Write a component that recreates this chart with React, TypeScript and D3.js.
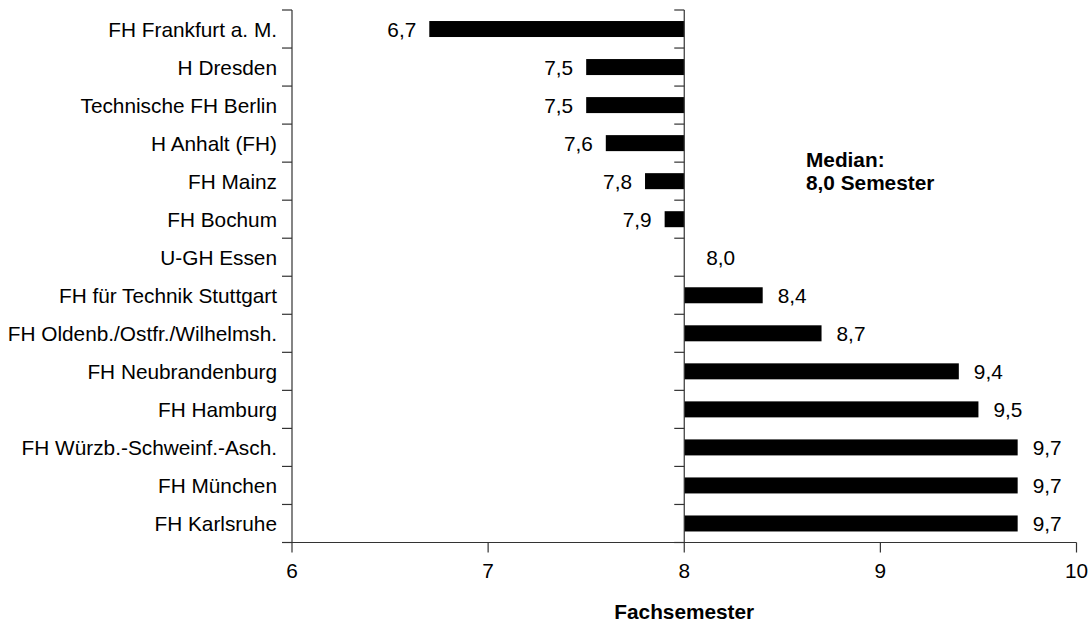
import React from "react";
import * as d3 from "d3";

const categories = [
  "FH Frankfurt a. M.",
  "H Dresden",
  "Technische FH Berlin",
  "H Anhalt (FH)",
  "FH Mainz",
  "FH Bochum",
  "U-GH Essen",
  "FH für Technik Stuttgart",
  "FH Oldenb./Ostfr./Wilhelmsh.",
  "FH Neubrandenburg",
  "FH Hamburg",
  "FH Würzb.-Schweinf.-Asch.",
  "FH München",
  "FH Karlsruhe",
];
const values = [6.7, 7.5, 7.5, 7.6, 7.8, 7.9, 8.0, 8.4, 8.7, 9.4, 9.5, 9.7, 9.7, 9.7];
const xTicks = [6, 7, 8, 9, 10];
const median = 8;
const xTitle = "Fachsemester";
const medianLines = ["Median:", "8,0 Semester"];

const W = 1091;
const H = 625;
const left = 292;
const right = 1076.5;
const top = 10;
const bottom = 542.5;
const font = "'Liberation Sans', Arial, sans-serif";
const fs = 20.8;
const axisColor = "#333";

export default function App() {
  const x = d3.scaleLinear().domain([6, 10]).range([left, right]);
  const y = d3.scaleBand<string>().domain(categories).range([top, bottom]).paddingInner(0);
  const bw = y.bandwidth();
  const barH = 16;
  const fmt = (v: number) => d3.format(".1f")(v).replace(".", ",");
  const boundaries = d3.range(categories.length + 1).map((i) => top + i * bw);
  const xm = x(median);

  return (
    <svg
      width={W}
      height={H}
      style={{ position: "absolute", left: 0, top: 0, background: "#fff" }}
      fontFamily={font}
    >
      <rect x={0} y={0} width={W} height={H} fill="#fff" />
      {/* bars */}
      {values.map((v, i) => {
        const cy = (y(categories[i]) as number) + bw / 2;
        const x0 = Math.min(x(v), xm);
        const x1 = Math.max(x(v), xm);
        return (
          <rect key={"b" + i} x={x0} y={cy - barH / 2} width={x1 - x0} height={barH} fill="#000" />
        );
      })}
      {/* left axis */}
      <line x1={left} x2={left} y1={top} y2={bottom} stroke={axisColor} strokeWidth={1.2} />
      {boundaries.map((b, i) => (
        <line key={"lt" + i} x1={left - 10} x2={left} y1={b} y2={b} stroke={axisColor} strokeWidth={1.2} />
      ))}
      {/* median axis */}
      <line x1={xm} x2={xm} y1={top} y2={bottom} stroke={axisColor} strokeWidth={1.2} />
      {boundaries.map((b, i) => (
        <line key={"mt" + i} x1={xm - 10} x2={xm} y1={b} y2={b} stroke={axisColor} strokeWidth={1.2} />
      ))}
      {/* bottom axis */}
      <line x1={left} x2={right} y1={bottom} y2={bottom} stroke={axisColor} strokeWidth={1.2} />
      {xTicks.map((t) => (
        <g key={"xt" + t}>
          <line x1={x(t)} x2={x(t)} y1={bottom} y2={bottom + 10} stroke={axisColor} strokeWidth={1.2} />
          <text x={x(t)} y={578} textAnchor="middle" fontSize={fs} fill="#000">
            {t}
          </text>
        </g>
      ))}
      {/* category labels */}
      {categories.map((c) => (
        <text
          key={"c" + c}
          x={277}
          y={(y(c) as number) + bw / 2}
          dy="0.36em"
          textAnchor="end"
          fontSize={fs}
          fill="#000"
        >
          {c}
        </text>
      ))}
      {/* value labels */}
      {values.map((v, i) => {
        const cy = (y(categories[i]) as number) + bw / 2;
        let lx: number;
        let anchor: "start" | "end";
        if (v < median) {
          lx = x(v) - 13;
          anchor = "end";
        } else if (v === median) {
          lx = xm + 22;
          anchor = "start";
        } else {
          lx = x(v) + 15;
          anchor = "start";
        }
        return (
          <text key={"v" + i} x={lx} y={cy} dy="0.36em" textAnchor={anchor} fontSize={fs} fill="#000">
            {fmt(v)}
          </text>
        );
      })}
      {/* median annotation */}
      {medianLines.map((t, i) => (
        <text key={"m" + i} x={806} y={167 + i * 23} fontSize={fs} fontWeight="bold" fill="#000">
          {t}
        </text>
      ))}
      {/* x title */}
      <text x={(left + right) / 2} y={619} textAnchor="middle" fontSize={fs} fontWeight="bold" fill="#000">
        {xTitle}
      </text>
    </svg>
  );
}
